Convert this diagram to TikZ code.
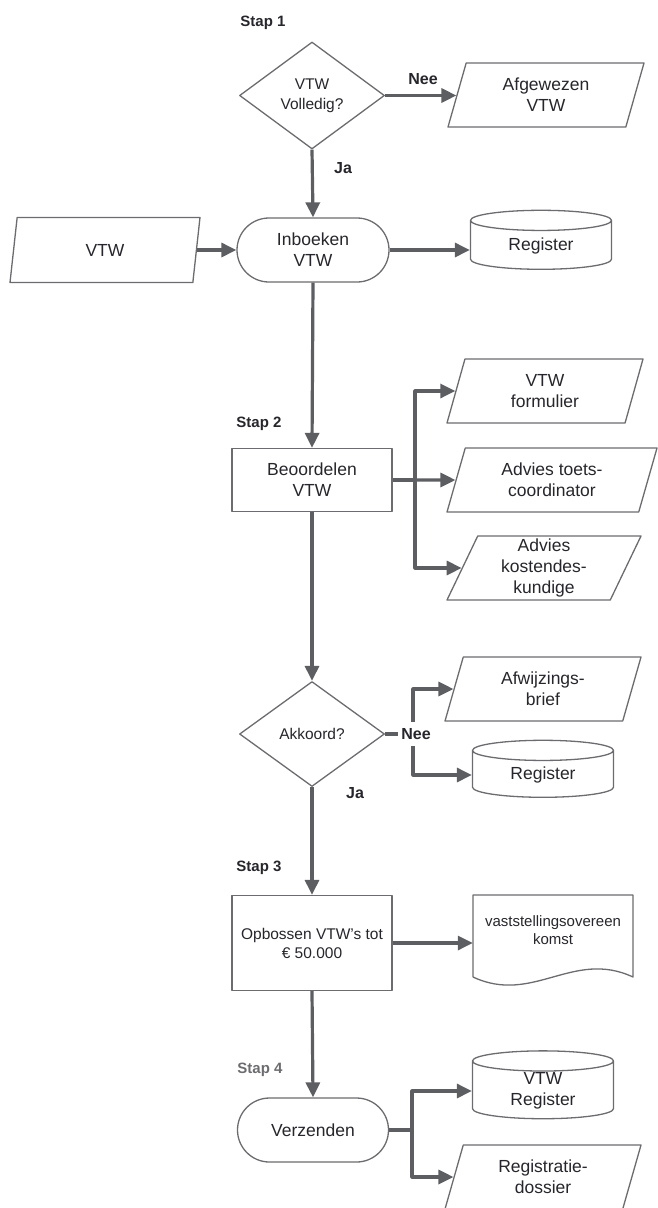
\documentclass[tikz,border=0pt]{standalone}
\usepackage{fontspec}
\setmainfont{Liberation Sans}
\usetikzlibrary{arrows.meta,shapes.geometric,shapes.misc}
\definecolor{linegray}{RGB}{92,94,98}
\definecolor{boxgray}{RGB}{108,108,112}
\definecolor{txtgray}{RGB}{38,38,44}

\begin{document}
\begin{tikzpicture}[x=1pt, y=-1pt, >={Triangle[length=15pt,width=14pt]}, line join=round,
  every node/.style={text=txtgray, align=center, font=\fontsize{17.5}{21}\selectfont},
  outline/.style={draw=boxgray, line width=1.3pt},
  base/.style={outline, fill=white, inner sep=1pt},
  data/.style={base, trapezium, trapezium left angle=63, trapezium right angle=117,
    trapezium stretches body, minimum height=64pt, minimum width=196pt},
  proc/.style={base, rectangle, minimum width=160pt, minimum height=63pt},
  term/.style={base, rounded rectangle, minimum width=154pt, minimum height=64pt},
  decide/.style={base, diamond, minimum width=145pt, minimum height=106pt, inner sep=0pt},
  store/.style={base, cylinder, shape border rotate=90, aspect=0.3,
    minimum width=141pt, minimum height=58pt},
  flow/.style={draw=linegray, line width=3.2pt, ->},
  tag/.style={font=\bfseries\fontsize{16}{20}\selectfont},
  stap/.style={font=\bfseries\fontsize{15}{18}\selectfont}]
  \useasboundingbox (0,0) rectangle (657,1208);

  % Stap 1
  \node[stap] (stap1) at (263,23) {Stap 1};
  \node[decide, minimum height=107pt, font=\fontsize{15.5}{20}\selectfont] (q1) at (312,95.5) {VTW\\Volledig?};
  \node[data] (afg) at (546,95) {Afgewezen\\VTW};
  \node[term] (inb) at (313,250) {Inboeken\\VTW};
  \node[data, minimum width=190pt, minimum height=65pt] (vtw) at (105,250) {VTW};
  \node[store, minimum height=59pt] (reg1) at (541,246) {Register};

  \draw[flow] (q1.east) -- (q1.east -| afg.west);
  \node[tag] (nee1) at (423,79) {Nee};
  \draw[flow] (q1.south) -- (inb.north);
  \node[tag] (ja1) at (343,168) {Ja};
  \draw[flow] (vtw.east) -- (vtw.east -| inb.west);
  \draw[flow] (inb.east) -- (inb.east -| reg1.west);

  % Stap 2
  \node[stap] (stap2) at (259,424) {Stap 2};
  \node[proc] (beo) at (312,480) {Beoordelen\\VTW};
  \node[data] (form) at (545,391) {VTW\\formulier};
  \node[data, minimum width=210pt] (advt) at (552,480) {Advies toets-\\coordinator};
  \node[data, minimum width=194pt] (advk) at (544,568) {Advies\\kostendes-\\kundige};

  \draw[flow] (inb.south) -- (beo.north);
  \coordinate (split1) at (415,480);
  \draw[flow] (beo.east) -- (split1) |- (form.west);
  \draw[flow] (split1) -- (advt.west);
  \draw[flow] (split1) |- (advk.west);

  % akkoord
  \node[decide, minimum height=105pt, font=\fontsize{15.5}{20}\selectfont] (q2) at (312,734) {Akkoord?};
  \node[data] (brief) at (543,689) {Afwijzings-\\brief};
  \node[store, minimum height=57pt] (reg2) at (543,775) {Register};

  \draw[flow] (beo.south) -- (q2.north);
  \coordinate (split2) at (413,734);
  \draw[flow] (q2.east) -- (split2) |- (brief.west);
  \draw[flow] (split2) |- (reg2.west);
  \node[tag, fill=white, inner xsep=3pt, inner ysep=6pt] (nee2) at (416,734) {Nee};
  \node[tag] (ja2) at (355,793) {Ja};

  % Stap 3
  \node[stap] (stap3) at (259,868) {Stap 3};
  \node[proc, minimum height=95pt, font=\fontsize{15.5}{19}\selectfont] (opb) at (312,943) {Opbossen VTW's tot\\€ 50.000};
  \draw[outline] (473,977) -- (473,895) -- (633,895) -- (633,977)
    .. controls +(-60,-28) and +(60,28) .. (473,977);
  \node[minimum width=160pt, minimum height=70pt, font=\fontsize{15}{18}\selectfont] (doc) at (553,930) {vaststellingsovereen\\komst};

  \draw[flow] (q2.south) -- (opb.north);
  \draw[flow] (opb.east) -- (opb.east -| doc.west);

  % Stap 4
  \node[stap, text=boxgray] (stap4) at (260,1070) {Stap 4};
  \node[term, minimum width=153pt] (verz) at (313,1130) {Verzenden};
  \node[store, minimum height=52pt] (reg3) at (543,1091) {VTW\\Register};
  \node[data] (dos) at (543,1177) {Registratie-\\dossier};

  \draw[flow] (opb.south) -- (verz.north);
  \coordinate (split4) at (412,1130);
  \draw[flow] (verz.east) -- (split4) |- (reg3.west);
  \draw[flow] (split4) |- (dos.west);
\end{tikzpicture}
\end{document}
